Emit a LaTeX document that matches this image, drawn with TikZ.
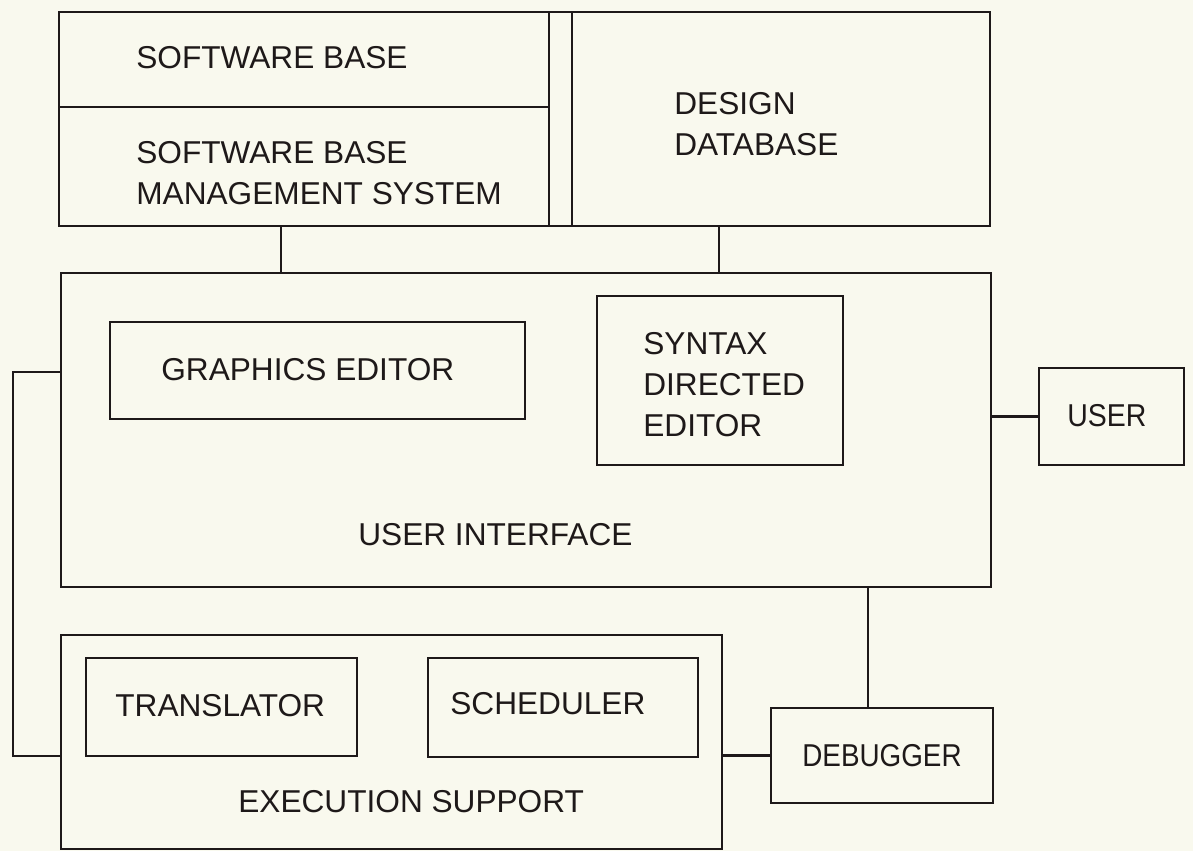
\documentclass[tikz,border=0pt]{standalone}
\usepackage{fontspec}
\setmainfont{Liberation Sans}
\usepackage{graphicx}
\usepackage{tikz}
\usetikzlibrary{positioning}
\definecolor{dfink}{RGB}{30,25,25}
\definecolor{dfpaper}{RGB}{249,249,238}
\tikzstyle{module} = [rectangle, draw=dfink, line width=1.35pt, inner sep=0pt, outer sep=0pt]
\tikzstyle{boxtext} = [anchor=north west, inner sep=0pt, align=left, text=dfink, font=\fontsize{18pt}{23.3pt}\selectfont]
\tikzstyle{link} = [line width=1.35pt, color=dfink]

\begin{document}
\begin{tikzpicture}[x=0.02cm, y=-0.02cm]
\path[use as bounding box, fill=dfpaper] (0,0) rectangle (1193,851);

% Software base and design database
\node (swbase) [module, minimum width=9.8cm, minimum height=1.9cm] at (304,59.5) {};
\node (sbms) [module, below=0pt of swbase, minimum width=9.8cm, minimum height=2.38cm] {};
\node (dbgap) [module, minimum width=0.46cm, minimum height=4.28cm] at (560.5,119) {};
\node (design) [module, right=0pt of dbgap, minimum width=8.36cm, minimum height=4.28cm] {};

% User interface
\node (ui) [module, minimum width=18.6cm, minimum height=6.28cm] at (526,430) {};
\node (graphics) [module, minimum width=8.3cm, minimum height=1.94cm] at (317.5,370.5) {};
\node (syntax) [module, minimum width=4.92cm, minimum height=3.38cm] at (720,380.5) {};
\node (user) [module, minimum width=2.9cm, minimum height=1.94cm] at (1111.5,416.5) {};

% Execution support
\node (exec) [module, minimum width=13.22cm, minimum height=4.28cm] at (391.5,742) {};
\node (translator) [module, minimum width=5.42cm, minimum height=1.96cm] at (221.5,707) {};
\node (scheduler) [module, minimum width=5.4cm, minimum height=1.98cm] at (563,707.5) {};
\node (debugger) [module, minimum width=4.44cm, minimum height=1.9cm] at (882,755.5) {};

% Texts
\node (tswbase) [boxtext] at (136,46) {SOFTWARE BASE};
\node (tsbms) [boxtext] at (136,141) {SOFTWARE BASE\\MANAGEMENT SYSTEM};
\node (tdesign) [boxtext] at (674,92) {DESIGN\\DATABASE};
\node (tgraphics) [boxtext] at (161,358) {GRAPHICS EDITOR};
\node (tsyntax) [boxtext] at (643,332) {SYNTAX\\DIRECTED\\EDITOR};
\node (tui) [boxtext] at (358,523) {USER INTERFACE};
\node (tuser) [boxtext] at (1067,404) {\scalebox{0.9}[1]{USER}};
\node (ttranslator) [boxtext] at (115,694) {TRANSLATOR};
\node (tscheduler) [boxtext] at (450,692) {SCHEDULER};
\node (texec) [boxtext] at (238,790) {EXECUTION SUPPORT};
\node (tdebugger) [boxtext] at (802,744) {\scalebox{0.88}[1]{DEBUGGER}};

% Connections
\draw[link] ([xshift=-0.46cm]sbms.south) -- ([xshift=-0.46cm]sbms.south |- ui.north);
\draw[link] ([xshift=-1.24cm]design.south) -- ([xshift=-1.24cm]design.south |- ui.north);
\draw[link] (user.west) -- (user.west -| ui.east);
\draw[link] ([xshift=-0.28cm]debugger.north) -- ([xshift=-0.28cm]debugger.north |- ui.south);
\draw[link] (debugger.west) -- (debugger.west -| exec.east);
\draw[link] ([yshift=1.16cm]ui.west) -- ++(-0.96cm,0) |- ([yshift=-0.28cm]exec.west);
\end{tikzpicture}
\end{document}
